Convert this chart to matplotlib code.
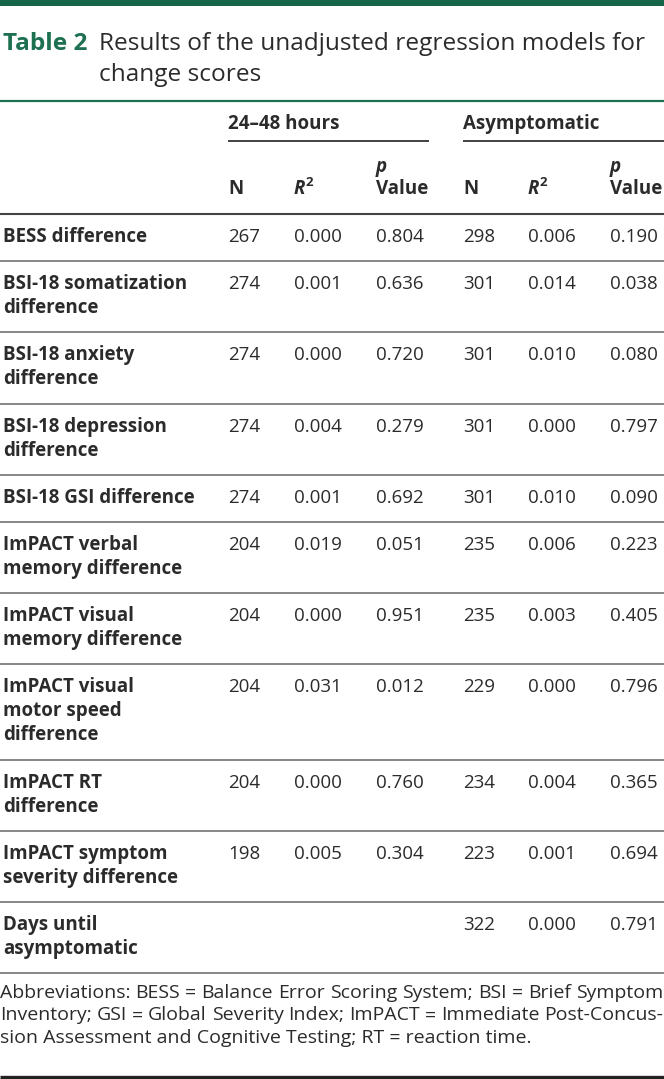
import matplotlib
matplotlib.use('Agg')
import matplotlib.pyplot as plt

plt.rcParams['font.family'] = ['Open Sans', 'DejaVu Sans']

W, H = 664, 1079
GREEN = '#1d7050'
INK = '#2b2b2b'

# table content
table_label = 'Table 2'
title_lines = ['Results of the unadjusted regression models for', 'change scores']
groups = ['24–48 hours', 'Asymptomatic']
row_labels = [
    'BESS difference',
    'BSI-18 somatization\ndifference',
    'BSI-18 anxiety\ndifference',
    'BSI-18 depression\ndifference',
    'BSI-18 GSI difference',
    'ImPACT verbal\nmemory difference',
    'ImPACT visual\nmemory difference',
    'ImPACT visual\nmotor speed\ndifference',
    'ImPACT RT\ndifference',
    'ImPACT symptom\nseverity difference',
    'Days until\nasymptomatic',
]
n_48 = [267, 274, 274, 274, 274, 204, 204, 204, 204, 198, None]
r2_48 = [0.000, 0.001, 0.000, 0.004, 0.001, 0.019, 0.000, 0.031, 0.000, 0.005, None]
p_48 = [0.804, 0.636, 0.720, 0.279, 0.692, 0.051, 0.951, 0.012, 0.760, 0.304, None]
n_asym = [298, 301, 301, 301, 301, 235, 235, 229, 234, 223, 322]
r2_asym = [0.006, 0.014, 0.010, 0.000, 0.010, 0.006, 0.003, 0.000, 0.004, 0.001, 0.000]
p_asym = [0.190, 0.038, 0.080, 0.797, 0.090, 0.223, 0.405, 0.796, 0.365, 0.694, 0.791]
footnote_lines = [
    'Abbreviations: BESS = Balance Error Scoring System; BSI = Brief Symptom',
    'Inventory; GSI = Global Severity Index; ImPACT = Immediate Post-Concus-',
    'sion Assessment and Cognitive Testing; RT = reaction time.',
]

fig = plt.figure(figsize=(W / 100, H / 100), dpi=100)
ax = fig.add_axes([0, 0, 1, 1])
ax.set_xlim(0, W)
ax.set_ylim(H, 0)
ax.axis('off')
renderer = fig.canvas.get_renderer()


def width_of(artist):
    bb = artist.get_window_extent(renderer).transformed(ax.transData.inverted())
    return bb.x0, bb.x1


body_fs = 13.5
col_x = [228, 294, 376, 463, 528, 610]

# title block
ax.axhspan(0, 5.5, color='#17664a', lw=0)
ax.text(3, 50, table_label, color=GREEN, fontsize=17.6, fontweight='bold', va='baseline')
for i, line in enumerate(title_lines):
    ax.text(99, 50 + 31 * i, line, color=INK, fontsize=17.6, va='baseline')
ax.hlines(101, 0, W, color=GREEN, lw=1.6)

# column headers
ax.text(col_x[0], 129, groups[0], color=INK, fontsize=body_fs, fontweight='bold', va='baseline')
ax.text(col_x[3], 129, groups[1], color=INK, fontsize=body_fs, fontweight='bold', va='baseline')
ax.hlines(141, col_x[0], 429, color='#333333', lw=1.3)
ax.hlines(141, col_x[3], W, color='#333333', lw=1.3)
for k in (0, 3):
    ax.text(col_x[k], 194, 'N', color=INK, fontsize=body_fs, fontweight='bold', va='baseline')
    r = ax.text(col_x[k + 1], 194, 'R', color=INK, fontsize=body_fs, fontweight='bold',
                fontstyle='italic', va='baseline')
    ax.text(width_of(r)[1] + 0.5, 186, '2', color=INK, fontsize=9.5, fontweight='bold', va='baseline')
    ax.text(col_x[k + 2], 172, 'p', color=INK, fontsize=body_fs, fontweight='bold',
            fontstyle='italic', va='baseline')
    ax.text(col_x[k + 2], 194, 'Value', color=INK, fontsize=body_fs, fontweight='bold', va='baseline')
ax.hlines(214, 0, W, color='#444444', lw=1.5)

# body rows
top = 214
for i, lab in enumerate(row_labels):
    nlines = lab.count('\n') + 1
    base = top + 28
    for j, part in enumerate(lab.split('\n')):
        ax.text(3, base + 24 * j, part, color=INK, fontsize=body_fs, fontweight='bold', va='baseline')
    vals = [n_48[i], r2_48[i], p_48[i], n_asym[i], r2_asym[i], p_asym[i]]
    for c, v in enumerate(vals):
        if v is None:
            continue
        s = str(v) if c % 3 == 0 else '%.3f' % v
        ax.text(col_x[c], base, s, color=INK, fontsize=body_fs, va='baseline')
    top = top + 23.2 + 24 * nlines
    ax.hlines(top, 0, W, color='#666666', lw=1.1)

# footnote: size so the first line fills the width, then justify all but the last line
probe = ax.text(0, 0, footnote_lines[0], fontsize=10)
x0, x1 = width_of(probe)
probe.remove()
foot_fs = 10 * (W - 2) / (x1 - x0)
for i, line in enumerate(footnote_lines):
    y = 998 + 22.5 * i
    if i == len(footnote_lines) - 1:
        ax.text(0, y, line, color=INK, fontsize=foot_fs, va='baseline')
        continue
    words = line.split(' ')
    arts = [ax.text(0, y, w, color=INK, fontsize=foot_fs, va='baseline') for w in words]
    widths = [width_of(a)[1] - width_of(a)[0] for a in arts]
    gap = (W - 0.5 - sum(widths)) / (len(words) - 1)
    x = 0
    for a, w in zip(arts, widths):
        a.set_x(x)
        x += w + gap

ax.hlines(1077, 0, W, color='#222222', lw=2.4)

fig.savefig('out.png', dpi=100)
